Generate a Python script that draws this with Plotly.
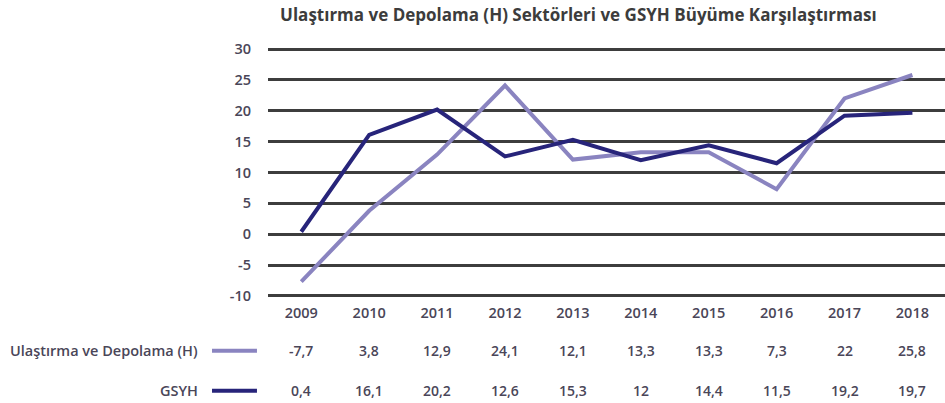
import plotly.graph_objects as go

years = ["2009", "2010", "2011", "2012", "2013", "2014", "2015", "2016", "2017", "2018"]
ulastirma = [-7.7, 3.8, 12.9, 24.1, 12.1, 13.3, 13.3, 7.3, 22, 25.8]
gsyh = [0.4, 16.1, 20.2, 12.6, 15.3, 12, 14.4, 11.5, 19.2, 19.7]
series_names = ["Ulaştırma ve Depolama (H)", "GSYH"]
title_text = "Ulaştırma ve Depolama (H) Sektörleri ve GSYH Büyüme Karşılaştırması"
y_ticks = [-10, -5, 0, 5, 10, 15, 20, 25, 30]
y_tick_text = ["-10", "-5", "0", "5", "10", "15", "20", "25", "30"]

c_light = "#8a84c0"
c_dark = "#27247a"
txt = "#4a4658"
font_fam = "Open Sans, Liberation Sans, sans-serif"

def fmt(v):
    return ("%g" % v).replace(".", ",")

fig = go.Figure()
fig.add_trace(go.Scatter(x=years, y=ulastirma, mode="lines", name=series_names[0],
                         line=dict(color=c_light, width=4)))
fig.add_trace(go.Scatter(x=years, y=gsyh, mode="lines", name=series_names[1],
                         line=dict(color=c_dark, width=4)))

row_y = [-0.205, -0.363]
vfont = dict(size=14, color=txt, family=font_fam, weight=600)
lfont = dict(size=14.5, color=txt, family=font_fam, weight=600)
annotations = []
for ri, vals in enumerate([ulastirma, gsyh]):
    for i, v in enumerate(vals):
        annotations.append(dict(x=i, y=row_y[ri], xref="x", yref="paper", text=fmt(v),
                                showarrow=False, xanchor="center", yanchor="middle",
                                font=vfont))
    annotations.append(dict(x=-0.100, y=row_y[ri], xref="paper", yref="paper",
                            text=series_names[ri], showarrow=False, xanchor="right",
                            yanchor="middle", font=lfont))

shapes = []
for ri, col in enumerate([c_light, c_dark]):
    shapes.append(dict(type="line", xref="paper", yref="paper", x0=-0.0827, x1=-0.0163,
                       y0=row_y[ri], y1=row_y[ri], line=dict(color=col, width=4)))

fig.update_layout(
    width=945, height=403,
    margin=dict(l=268, r=0, t=46, b=104),
    paper_bgcolor="white", plot_bgcolor="white",
    showlegend=False,
    title=dict(text=title_text, x=0.612, xanchor="center", y=0.963, yanchor="middle",
               font=dict(size=17, color="#3c3c3c", family=font_fam, weight=700)),
    annotations=annotations,
    shapes=shapes,
    font=dict(family=font_fam, size=14, color=txt),
)
fig.update_xaxes(range=[-0.49, 9.48], showgrid=False, zeroline=False, showline=False,
                 ticks="", tickfont=dict(size=14.5, color=txt, family=font_fam, weight=600),
                 ticklabelstandoff=3)
fig.update_yaxes(range=[-10.5, 30.5], tickvals=y_ticks, ticktext=y_tick_text,
                 showgrid=True, gridcolor="#3d3d3d",
                 gridwidth=2.5, zeroline=False, showline=False, ticks="",
                 tickfont=dict(size=14.5, color=txt, family=font_fam, weight=600),
                 ticklabelstandoff=16)

fig.write_html("out.html", config={"displayModeBar": False},
               post_script="document.body.style.margin='0';document.body.style.padding='0';")
